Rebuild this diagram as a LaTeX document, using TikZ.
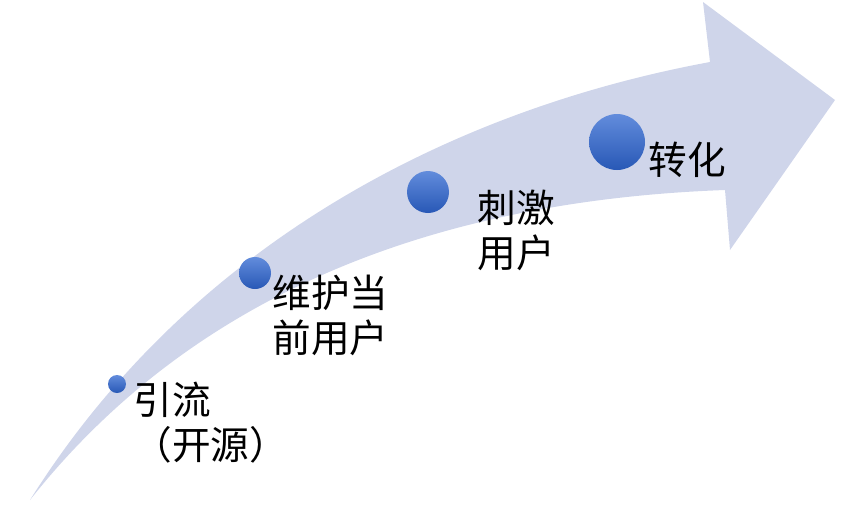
\documentclass[tikz,border=0pt]{standalone}
\usepackage{fontspec}
\newfontfamily\cjk{Noto Sans CJK SC}
\usetikzlibrary{positioning}
\definecolor{bandfill}{RGB}{207,213,234}
\definecolor{balltop}{RGB}{98,140,220}
\definecolor{ballbot}{RGB}{40,88,182}
\tikzset{
  stage/.style={circle,inner sep=0pt,top color=balltop,bottom color=ballbot,draw=none},
  word/.style={anchor=north west,align=left,inner sep=0pt,font=\cjk\fontsize{22pt}{25.6pt}\selectfont}
}
\begin{document}
\begin{tikzpicture}[x=0.02cm,y=-0.02cm]
\useasboundingbox (0,0) rectangle (865,508);
% the band
\fill[bandfill] (30,500) .. controls (190,245) and (450,110) .. (710,62) -- (703,2) -- (835,100)
  -- (730,250) -- (725,190) .. controls (450,200) and (200,285) .. (30,500) -- cycle;
% the stages
\node[stage,minimum size=0.36cm] (s1) at (117,384) {};
\node[stage,minimum size=0.64cm] (s2) at (255,273) {};
\node[stage,minimum size=0.84cm] (s3) at (428,192) {};
\node[stage,minimum size=1.12cm] (s4) at (617,142) {};
% the labels
\node[word] (l1) at (133,382) {引流\\（开源）};
\node[word] (l2) at (272,275) {维护当\\前用户};
\node[word] (l3) at (477,190) {刺激\\用户};
\node[word] (l4) at (648,142) {转化};
\end{tikzpicture}
\end{document}
